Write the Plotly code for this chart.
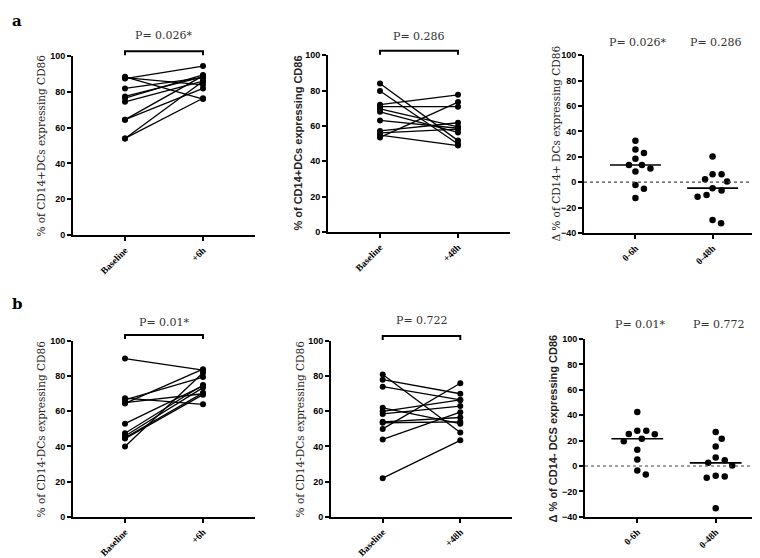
import plotly.graph_objects as go
import numpy as np

W, H = 760, 558

# ---------------- data ----------------
labels_6h = ["Baseline", "+6h"]
labels_48h = ["Baseline", "+48h"]
labels_delta = ["0-6h", "0-48h"]

# a: CD14+ DCs
cd14p_base_6 = [88.5, 88, 87.5, 82, 77.5, 76.5, 74.5, 64.5, 64.5, 54, 54]
cd14p_post_6h = [76, 84, 94.5, 88, 88.5, 89.5, 86, 89, 82, 86, 76.5]
cd14p_base_48 = [84, 79.8, 72, 70.9, 69.6, 68, 63.1, 57.2, 56.1, 54.8, 53.5]
cd14p_post_48h = [51.7, 49.8, 77.6, 70.9, 59.5, 56.3, 58.7, 61.8, 58.2, 48.9, 73.5]
cd14p_delta_6h = [32.7, 25.7, 22.9, 18.5, 13.6, 13.6, 10.8, 8.5, -2.3, -5.2, -12.4]
cd14p_delta_48h = [20.3, 6.2, 6.2, 2.3, 0.5, -4.7, -6.5, -10, -11.4, -29.7, -32.3]

# b: CD14- DCs
cd14n_base_6 = [90, 67.5, 65, 66.5, 64.5, 40, 53, 47.5, 46, 45, 44.5]
cd14n_post_6h = [83.5, 64, 70, 79.5, 84, 82, 74.5, 75, 73.5, 70.5, 69.5]
cd14n_base_48 = [81, 78, 74, 62, 22, 50, 44, 60, 58.5, 54, 53.5]
cd14n_post_48h = [48, 70, 66.5, 53, 43.5, 76, 59.5, 66.5, 63, 56.5, 54]
cd14n_delta_6h = [42.5, 27.7, 27.7, 25.3, 25.1, 21.5, 19.5, 12.8, 5.1, -3.6, -6.7]
cd14n_delta_48h = [26.7, 21.5, 15.4, 6.7, 4.6, 2.5, 0.5, -7.7, -8.2, -9.2, -33.3]

p_a_6h, p_a_48h = "P= 0.026*", "P= 0.286"
p_b_6h, p_b_48h = "P= 0.01*", "P= 0.722"
p_b_delta_48h = "P= 0.772"

ytitle_a1 = "% of CD14+DCs expressing CD86"
ytitle_a3 = "\u0394 % of CD14+ DCs expressing CD86"
ytitle_b1 = "% of CD14-DCs expressing CD86"
ytitle_b3 = "\u0394 % of CD14- DCS expressing CD86"

# ---------------- layout helpers ----------------
SERIF = "DejaVu Serif"
TSERIF = "Liberation Serif"
SANS = "Liberation Sans, Arial"
XR = [-2/3, 5/3]

fig = go.Figure()
layout = dict(width=W, height=H, margin=dict(l=0, r=0, t=0, b=0),
              plot_bgcolor="white", paper_bgcolor="white", showlegend=False)
annotations = []
shapes = []


def box(x0, x1, y0, y1):
    return [x0 / W, x1 / W], [1 - y1 / H, 1 - y0 / H]


class Panel:
    def __init__(self, xpx, ypx, yrange):
        self.xpx, self.ypx, self.yr = xpx, ypx, yrange

    def px(self, x):
        return self.xpx[0] + (x - XR[0]) * (self.xpx[1] - self.xpx[0]) / (XR[1] - XR[0])


def add_axes(idx, pan, ticktext):
    xd, yd = box(pan.xpx[0], pan.xpx[1], pan.ypx[0], pan.ypx[1])
    sfx = "" if idx == 1 else str(idx)
    layout["xaxis" + sfx] = dict(
        domain=xd, range=XR, anchor="y" + sfx, tickvals=[0, 1], ticktext=ticktext,
        tickangle=-45, showline=True, linecolor="black", linewidth=2,
        ticks="outside", ticklen=4, tickwidth=2, tickcolor="black",
        showgrid=False, zeroline=False,
        tickfont=dict(family=TSERIF, size=9.5, color="black", weight="bold"))
    layout["yaxis" + sfx] = dict(
        domain=yd, range=pan.yr, anchor="x" + sfx, dtick=20,
        showline=True, linecolor="black", linewidth=2,
        ticks="outside", ticklen=4, tickwidth=2, tickcolor="black",
        showgrid=False, zeroline=False,
        tickfont=dict(family=SANS, size=9, color="black", weight="bold"))
    return "x" + sfx, "y" + sfx


def ytitle(text, xpx, ypx, family, weight="normal", size=10.5):
    annotations.append(dict(text=text, xref="paper", yref="paper",
                            x=xpx / W, y=1 - ypx / H, showarrow=False, textangle=-90,
                            xanchor="center", yanchor="middle",
                            font=dict(family=family, size=size, color="#222", weight=weight)))


def ptext(text, xpx, ypx):
    annotations.append(dict(text=text, xref="paper", yref="paper", x=xpx / W, y=1 - ypx / H,
                            showarrow=False, xanchor="center", yanchor="middle",
                            font=dict(family=SERIF, size=11, color="#333")))


def paired(idx, pan, base, post, ticktext, ptxt, ybr_px, ytx_px):
    xr, yr = add_axes(idx, pan, ticktext)
    xs, ys = [], []
    for b, p in zip(base, post):
        xs += [0, 1, None]
        ys += [b, p, None]
    fig.add_trace(go.Scatter(x=xs, y=ys, xaxis=xr, yaxis=yr, mode="lines+markers",
                             line=dict(color="black", width=1.3),
                             marker=dict(color="black", size=6), cliponaxis=False))
    x0, x1 = pan.px(0) / W, pan.px(1) / W
    yb = 1 - ybr_px / H
    ye = 1 - (ybr_px + 4) / H
    shapes.append(dict(type="path", xref="paper", yref="paper",
                       path=f"M{x0},{ye} L{x0},{yb} L{x1},{yb} L{x1},{ye}",
                       line=dict(color="black", width=2)))
    ptext(ptxt, (pan.px(0) + pan.px(1)) / 2, ytx_px)


def swarm(vals, px_per_x, px_per_y, d=9.0):
    n = len(vals)
    order = sorted(range(n), key=lambda i: -vals[i])
    placed = []
    offs = [0.0] * n
    for i in order:
        yy = vals[i] * px_per_y
        k = 0
        found = None
        while found is None:
            cands = [0.0] if k == 0 else [k * 0.5, -k * 0.5]
            for c in cands:
                if all((c - px) ** 2 + (yy - py) ** 2 >= d * d for px, py in placed):
                    found = c
                    break
            k += 1
        placed.append((found, yy))
        offs[i] = found / px_per_x
    return offs


def delta(idx, pan, d6, d48, ptxts, ytx_px):
    xr, yr = add_axes(idx, pan, labels_delta)
    pxx = (pan.xpx[1] - pan.xpx[0]) / (XR[1] - XR[0])
    pxy = (pan.ypx[1] - pan.ypx[0]) / (pan.yr[1] - pan.yr[0])
    shapes.append(dict(type="line", xref=xr, yref=yr, x0=XR[0], x1=XR[1], y0=0, y1=0,
                       line=dict(color="#444", width=1.2, dash="dot")))
    for c, vals in enumerate([d6, d48]):
        offs = swarm(vals, pxx, pxy)
        fig.add_trace(go.Scatter(x=[c + o for o in offs], y=vals, xaxis=xr, yaxis=yr,
                                 mode="markers", marker=dict(color="black", size=6.5),
                                 cliponaxis=False))
        med = float(np.median(vals))
        shapes.append(dict(type="line", xref=xr, yref=yr, x0=c - 0.33, x1=c + 0.33,
                           y0=med, y1=med, line=dict(color="black", width=1.6)))
        ptext(ptxts[c], pan.px(c) + 3, ytx_px)


# ---- row a ----
pa1 = Panel((65, 247), (44, 226), [0, 100])
paired(1, pa1, cd14p_base_6, cd14p_post_6h, labels_6h, p_a_6h, 39, 23)
ytitle(ytitle_a1, 33, 135, SERIF)
pa2 = Panel((320, 502), (43, 223), [0, 100])
paired(2, pa2, cd14p_base_48, cd14p_post_48h, labels_48h, p_a_48h, 38.5, 23.5)
ytitle(ytitle_a1, 290, 133, SANS, "bold", 11)
pa3 = Panel((576, 756), (43, 224), [-40, 100])
delta(3, pa3, cd14p_delta_6h, cd14p_delta_48h, [p_a_6h, p_a_48h], 30)
ytitle(ytitle_a3, 548, 133, SERIF)

# ---- row b ----
pb1 = Panel((65, 247), (334, 513), [0, 100])
paired(4, pb1, cd14n_base_6, cd14n_post_6h, labels_6h, p_b_6h, 328, 315)
ytitle(ytitle_b1, 33, 424, SERIF)
pb2 = Panel((323, 504), (334, 513), [0, 100])
paired(5, pb2, cd14n_base_48, cd14n_post_48h, labels_48h, p_b_48h, 329, 313)
ytitle(ytitle_b1, 292, 424, SERIF)
pb3 = Panel((577, 760), (332, 513), [-40, 100])
delta(6, pb3, cd14n_delta_6h, cd14n_delta_48h, [p_b_6h, p_b_delta_48h], 317)
ytitle(ytitle_b3, 545, 423, SANS, "bold", 11)

# panel letters
for letter, ypx in [("a", 8), ("b", 296)]:
    annotations.append(dict(text=letter, xref="paper", yref="paper", x=2 / W, y=1 - ypx / H,
                            showarrow=False, xanchor="left", yanchor="middle",
                            font=dict(family=SERIF, size=15, color="black", weight="bold")))

layout["annotations"] = annotations
layout["shapes"] = shapes
fig.update_layout(**layout)
fig.write_html("out.html")
